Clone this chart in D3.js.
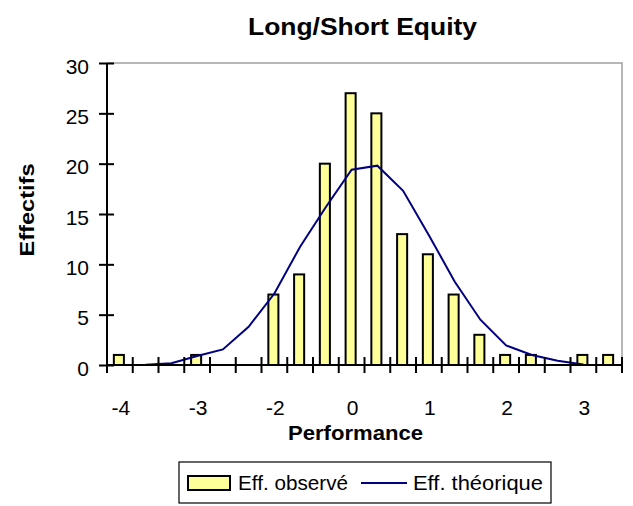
<!DOCTYPE html>
<html>
<head>
<meta charset="utf-8">
<script src="https://cdn.jsdelivr.net/npm/d3@7"></script>
<style>
  body { margin: 0; background: #fff; }
  text { font-family: "Liberation Sans", Arial, sans-serif; fill: #000; }
</style>
</head>
<body>
<svg id="chart" width="633" height="506"></svg>
<script>
// ---- data ----
const categories = d3.range(20);
const tickLabels = ["-4","","","-3","","","-2","","","0","","","1","","","2","","","3",""];
const observed = [1,0,0,1,0,0,7,9,20,27,25,13,11,7,3,1,1,0,1,1];
const theoretical = [null,0.02,0.17,0.9,1.55,3.8,7.1,11.75,15.7,19.4,19.8,17.3,12.9,8.3,4.5,1.95,1.0,0.43,0.05,null];
const yTicks = [0,5,10,15,20,25,30];

// ---- layout ----
const L = 107, R = 622, T = 63, B = 365;
const svg = d3.select("#chart");
const FONT = '"Liberation Sans", Arial, sans-serif';

const x = d3.scaleBand().domain(categories).range([L, R]).paddingInner(0).paddingOuter(0);
const y = d3.scaleLinear().domain([0, 30]).range([B, T]);
const bw = x.bandwidth() * 0.39;

// plot border (top/right grey)
svg.append("path")
  .attr("d", `M${L},${T}H${R}V${B}`)
  .attr("fill", "none").attr("stroke", "#a0a0a0").attr("stroke-width", 1.5);

// bars
svg.append("g").selectAll("rect")
  .data(categories.filter(i => observed[i] > 0))
  .join("rect")
  .attr("x", i => x(i) + x.bandwidth() / 2 - bw / 2 - 1)
  .attr("y", i => y(observed[i]))
  .attr("width", bw)
  .attr("height", i => y(0) - y(observed[i]))
  .attr("fill", "#ffff99")
  .attr("stroke", "#000").attr("stroke-width", 2);

// theoretical line
const line = d3.line()
  .defined(i => theoretical[i] !== null)
  .x(i => x(i) + x.bandwidth() / 2)
  .y(i => y(theoretical[i]));
svg.append("path")
  .datum(categories)
  .attr("d", line)
  .attr("fill", "none").attr("stroke", "#000080").attr("stroke-width", 2);

// y axis
const yAxis = d3.axisLeft(y).tickValues(yTicks).tickSize(0).tickPadding(0).tickFormat(d3.format("d"));
const gy = svg.append("g").attr("transform", `translate(${L},0)`).call(yAxis);
gy.select(".domain").remove();
gy.selectAll(".tick text")
  .attr("x", -18).attr("dy", "0.62em").attr("y", -3)
  .style("font-size", "21px").style("font-family", FONT);
gy.selectAll(".tick").append("line")
  .attr("x1", -8).attr("x2", 7).attr("stroke", "#000").attr("stroke-width", 2);
svg.append("line").attr("x1", L).attr("x2", L).attr("y1", T).attr("y2", B + 1)
  .attr("stroke", "#000").attr("stroke-width", 2);

// x axis: category boundary ticks
const xb = d3.scaleLinear().domain([0, categories.length]).range([L, R]);
svg.append("g").selectAll("line")
  .data(d3.range(categories.length + 1))
  .join("line")
  .attr("x1", d => xb(d)).attr("x2", d => xb(d))
  .attr("y1", B - 8).attr("y2", B + 8)
  .attr("stroke", "#000").attr("stroke-width", 2);
svg.append("line").attr("x1", L).attr("x2", R).attr("y1", B).attr("y2", B)
  .attr("stroke", "#000").attr("stroke-width", 2);

const xAxis = d3.axisBottom(x)
  .tickValues(categories.filter(i => tickLabels[i] !== ""))
  .tickFormat(i => tickLabels[i]).tickSize(0).tickPadding(0);
const gx = svg.append("g").attr("transform", `translate(0,${B})`).call(xAxis);
gx.select(".domain").remove();
gx.selectAll(".tick text")
  .attr("y", 50).attr("dy", 0).attr("dx", 1)
  .style("font-size", "21px").style("font-family", FONT);

// title
svg.append("text").attr("x", 362.5).attr("y", 35).attr("text-anchor", "middle")
  .style("font-size", "23px").style("font-weight", "bold")
  .attr("textLength", 229).attr("lengthAdjust", "spacingAndGlyphs")
  .text("Long/Short Equity");

// axis titles
svg.append("text").attr("x", 355.5).attr("y", 440).attr("text-anchor", "middle")
  .style("font-size", "21px").style("font-weight", "bold")
  .attr("textLength", 135).attr("lengthAdjust", "spacingAndGlyphs")
  .text("Performance");
svg.append("text").attr("transform", "translate(33.5,210) rotate(-90)").attr("text-anchor", "middle")
  .style("font-size", "21px").style("font-weight", "bold")
  .attr("textLength", 93).attr("lengthAdjust", "spacingAndGlyphs")
  .text("Effectifs");

// legend
const lg = svg.append("g");
lg.append("rect").attr("x", 179).attr("y", 462).attr("width", 372).attr("height", 41)
  .attr("fill", "#fff").attr("stroke", "#000").attr("stroke-width", 1.2);
lg.append("rect").attr("x", 188).attr("y", 476).attr("width", 42).attr("height", 14)
  .attr("fill", "#ffff99").attr("stroke", "#000").attr("stroke-width", 2);
lg.append("text").attr("x", 238).attr("y", 490)
  .style("font-size", "20px").attr("textLength", 110).attr("lengthAdjust", "spacingAndGlyphs")
  .text("Eff. observé");
lg.append("line").attr("x1", 361).attr("x2", 407).attr("y1", 483).attr("y2", 483)
  .attr("stroke", "#000080").attr("stroke-width", 2);
lg.append("text").attr("x", 413).attr("y", 490)
  .style("font-size", "20px").attr("textLength", 130).attr("lengthAdjust", "spacingAndGlyphs")
  .text("Eff. théorique");
</script>
</body>
</html>
